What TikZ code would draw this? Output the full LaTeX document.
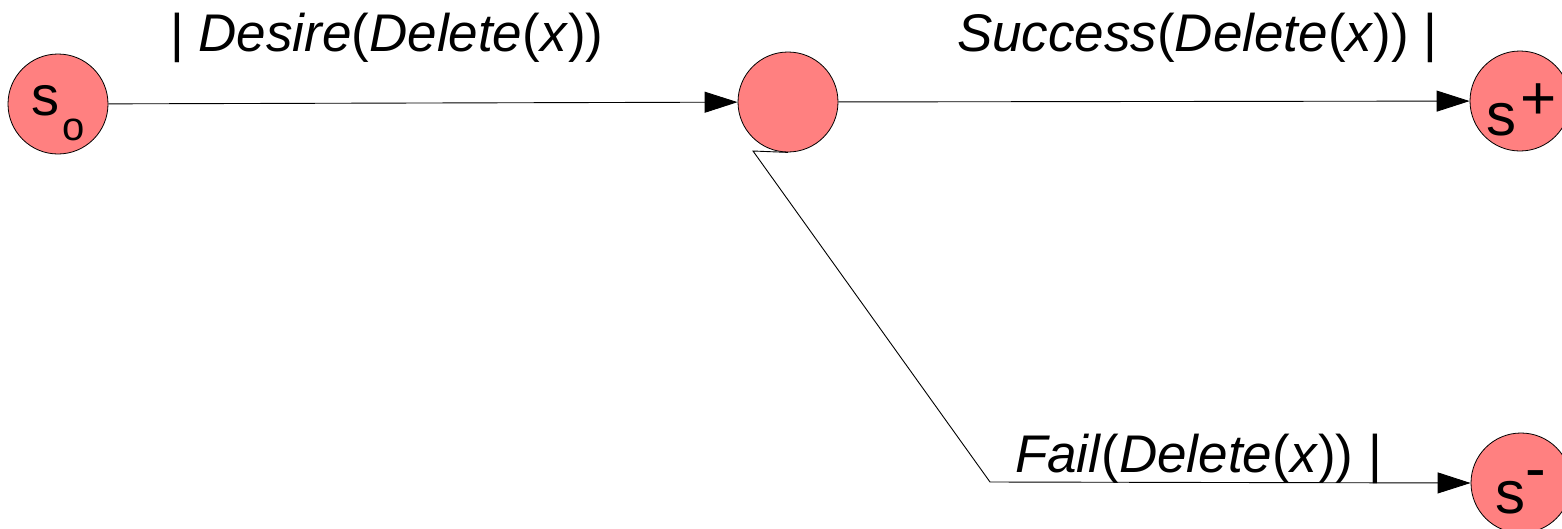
\documentclass[tikz,border=0pt]{standalone}
\usepackage{fontspec}
\setmainfont{Liberation Sans}
\usetikzlibrary{arrows.meta}
\definecolor{salmon}{RGB}{255,128,128}
\tikzset{
  statenode/.style={circle,draw=black,line width=0.8pt,fill=salmon,minimum size=100pt,inner sep=0pt},
  arr/.style={draw=black,line width=0.9pt,-{Triangle[length=33pt,width=21pt]}},
  lbl/.style={inner sep=0pt,outer sep=0pt,anchor=base west,font=\fontsize{53}{60}\selectfont},
  stxt/.style={inner sep=0pt,outer sep=0pt,anchor=base west},
}
\begin{document}
\begin{tikzpicture}[x=1pt,y=-1pt]
\useasboundingbox (0,0) rectangle (1562,528);
\clip (0,0) rectangle (1562,528);
\fill[white] (0,0) rectangle (1562,528);
\node[statenode] (s0) at (58,104) {};
\node[statenode] (mid) at (788,102) {};
\node[statenode] (splus) at (1520,101) {};
\node[statenode] (sminus) at (1521,483) {};
\coordinate (k1) at (753,151);
\coordinate (k2) at (990,482);
\draw[arr] (s0) -- (mid);
\draw[arr] (mid) -- (splus);
\draw[arr] (mid.south) -- (k1) -- (k2) -- (sminus.west);
\node[lbl] (ldes) at (170,51) {| \textit{Desire}(\textit{Delete}(\textit{x}))};
\node[lbl] (lsuc) at (957,51) {\textit{Success}(\textit{Delete}(\textit{x})) |};
\node[lbl] (lfail) at (1015,472) {\textit{Fail}(\textit{Delete}(\textit{x})) |};
\node[stxt,font=\fontsize{56}{60}\selectfont] (ts0) at (31,115) {s};
\node[stxt,font=\fontsize{40}{44}\selectfont] (ts0sub) at (62,140) {o};
\node[stxt,font=\fontsize{60}{60}\selectfont] (tsp) at (1486,135) {s};
\node[stxt,font=\fontsize{62}{60}\selectfont] (tspsup) at (1520,119) {+};
\node[stxt,font=\fontsize{60}{60}\selectfont] (tsm) at (1495,513) {s};
\node[stxt,font=\fontsize{62}{60}\selectfont] (tsmsup) at (1525,489) {-};
\end{tikzpicture}
\end{document}
